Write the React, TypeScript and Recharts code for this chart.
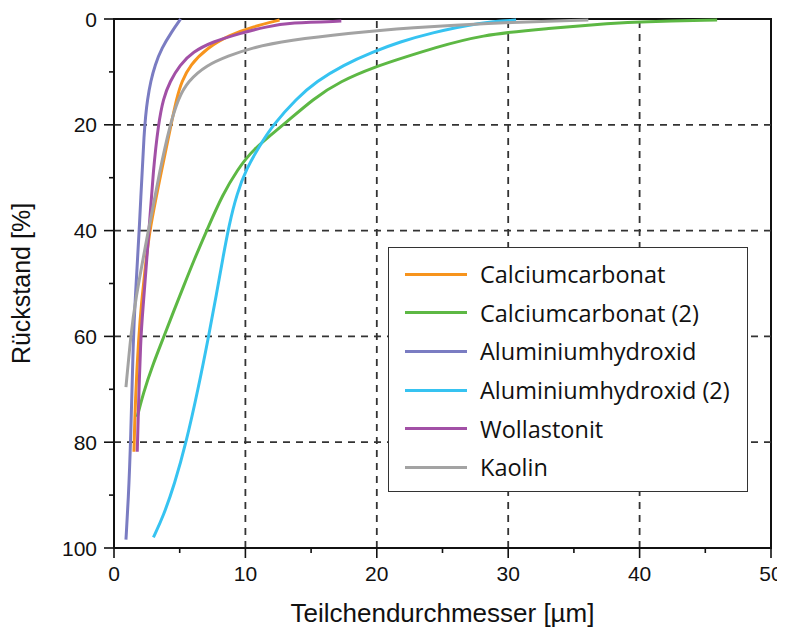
import React from 'react';
import { LineChart, Line, XAxis, YAxis, Legend, ReferenceLine, ReferenceArea } from 'recharts';

// diameter [µm] vs residue [%]
const calciumcarbonat = [
  { x: 1.52, y: 81.8 }, { x: 1.62, y: 72 }, { x: 1.88, y: 60 }, { x: 2.1, y: 53.5 }, { x: 2.36, y: 47.4 },
  { x: 2.69, y: 40 }, { x: 3.63, y: 28.5 }, { x: 4.34, y: 20 }, { x: 4.77, y: 15 }, { x: 5.15, y: 11.8 },
  { x: 5.8, y: 8.7 }, { x: 7.05, y: 5.5 }, { x: 8.83, y: 3.0 }, { x: 10.6, y: 1.45 }, { x: 12.6, y: 0.2 },
];
const calciumcarbonat2 = [
  { x: 1.77, y: 75.2 }, { x: 2.23, y: 70.7 }, { x: 2.9, y: 65.7 }, { x: 3.8, y: 60 }, { x: 4.5, y: 55.5 },
  { x: 5.3, y: 50.5 }, { x: 6.1, y: 45.5 }, { x: 7.05, y: 40 }, { x: 8.3, y: 33 }, { x: 9.4, y: 28.5 },
  { x: 10.5, y: 24.8 }, { x: 12.9, y: 20 }, { x: 15.2, y: 15 }, { x: 17.2, y: 11.8 }, { x: 19.9, y: 9.0 },
  { x: 22.3, y: 7.1 }, { x: 24.2, y: 5.6 }, { x: 27.9, y: 3.0 }, { x: 32.9, y: 1.8 }, { x: 38, y: 0.8 },
  { x: 40, y: 0.5 }, { x: 45.9, y: 0.2 },
];
const aluminiumhydroxid = [
  { x: 0.91, y: 98.4 }, { x: 1.09, y: 90.9 }, { x: 1.27, y: 80 }, { x: 1.47, y: 60 }, { x: 1.6, y: 53.5 },
  { x: 1.93, y: 40 }, { x: 2.3, y: 20 }, { x: 2.56, y: 15 }, { x: 2.79, y: 11.8 }, { x: 3.12, y: 8.7 },
  { x: 3.63, y: 5.5 }, { x: 4.39, y: 2.4 }, { x: 5.07, y: 0 },
];
const aluminiumhydroxid2 = [
  { x: 3.0, y: 98 }, { x: 3.75, y: 94 }, { x: 4.6, y: 88 }, { x: 5.5, y: 80 }, { x: 6.4, y: 70 },
  { x: 7.2, y: 60 }, { x: 7.8, y: 52 }, { x: 8.3, y: 45 }, { x: 8.75, y: 39 }, { x: 9.35, y: 33 },
  { x: 10.1, y: 28.2 }, { x: 11.0, y: 24.3 }, { x: 12.1, y: 20 }, { x: 13.9, y: 15 }, { x: 15.4, y: 11.8 },
  { x: 17.45, y: 8.7 }, { x: 19.7, y: 6.2 }, { x: 21.8, y: 4.3 }, { x: 24, y: 2.7 }, { x: 27.9, y: 0.6 },
  { x: 30.6, y: 0.2 },
];
const wollastonit = [
  { x: 1.77, y: 81.8 }, { x: 1.83, y: 76 }, { x: 2.03, y: 60 }, { x: 2.2, y: 55 }, { x: 2.66, y: 40 },
  { x: 2.99, y: 28.5 }, { x: 3.37, y: 20 }, { x: 3.75, y: 15 }, { x: 4.26, y: 11.8 }, { x: 5.0, y: 8.7 },
  { x: 6.0, y: 6.2 }, { x: 7.5, y: 4.3 }, { x: 9.6, y: 2.7 }, { x: 11.6, y: 1.45 }, { x: 13.4, y: 0.7 },
  { x: 17.3, y: 0.4 },
];
const kaolin = [
  { x: 0.91, y: 69.6 }, { x: 1.27, y: 60 }, { x: 1.6, y: 53.5 }, { x: 2.61, y: 40 }, { x: 3.5, y: 28.5 },
  { x: 4.26, y: 20 }, { x: 4.9, y: 15 }, { x: 5.6, y: 11.8 }, { x: 7.05, y: 8.7 }, { x: 8.7, y: 7.0 },
  { x: 10.35, y: 5.5 }, { x: 13.4, y: 4.0 }, { x: 17.7, y: 2.7 }, { x: 22.8, y: 1.6 }, { x: 28, y: 0.8 },
  { x: 36.1, y: 0.2 },
];

const xTicks = [0, 5, 10, 15, 20, 25, 30, 35, 40, 45, 50];
const yTicks = [0, 10, 20, 30, 40, 50, 60, 70, 80, 90, 100];
const xGrid = [10, 20, 30, 40];
const yGrid = [20, 40, 60, 80];

const series = [
  { name: 'Calciumcarbonat', data: calciumcarbonat, color: '#f7941d' },
  { name: 'Calciumcarbonat (2)', data: calciumcarbonat2, color: '#5db844' },
  { name: 'Aluminiumhydroxid', data: aluminiumhydroxid, color: '#7a7cc2' },
  { name: 'Aluminiumhydroxid (2)', data: aluminiumhydroxid2, color: '#36c3f1' },
  { name: 'Wollastonit', data: wollastonit, color: '#a250a6' },
  { name: 'Kaolin', data: kaolin, color: '#a3a3a3' },
];

const font = 'Liberation Sans, Arial, sans-serif';

const XTick = (props: any) => {
  const { x, y, payload } = props;
  const major = payload.value % 10 === 0;
  return (
    <g>
      <line x1={x} y1={y} x2={x} y2={y + (major ? 10 : 5)} stroke="#111" strokeWidth={1.6} />
      {major && (
        <text x={x} y={y + 33} textAnchor="middle" fontSize={21} fill="#111" fontFamily={font}>
          {payload.value}
        </text>
      )}
    </g>
  );
};

const YTick = (props: any) => {
  const { x, y, payload } = props;
  const major = payload.value % 20 === 0;
  return (
    <g>
      <line x1={x} y1={y} x2={x - (major ? 10 : 5)} y2={y} stroke="#111" strokeWidth={1.6} />
      {major && (
        <text x={x - 17} y={y} dy="0.36em" textAnchor="end" fontSize={21} fill="#111" fontFamily={font}>
          {payload.value}
        </text>
      )}
    </g>
  );
};

const LegendBox = () => (
  <div
    style={{
      width: 358,
      height: 236,
      border: '1.8px solid #333',
      background: '#fff',
      boxSizing: 'content-box',
      paddingTop: 7,
    }}
  >
    {series.map((s) => (
      <div key={s.name} style={{ display: 'flex', alignItems: 'center', height: 38.6 }}>
        <div style={{ width: 62, height: 3, background: s.color, marginLeft: 16, marginRight: 13 }} />
        <span style={{ fontFamily: 'Open Sans, sans-serif', fontSize: 23.5, color: '#111' }}>{s.name}</span>
      </div>
    ))}
  </div>
);

export default function App() {
  return (
    <LineChart
      width={777}
      height={625}
      margin={{ top: 11, right: 14, bottom: 25, left: 46 }}
      style={{ fontFamily: font }}
    >
      <XAxis
        type="number"
        dataKey="x"
        domain={[0, 50]}
        ticks={xTicks}
        interval={0}
        tickSize={0}
        tickMargin={0}
        tickLine={false}
        tick={<XTick />}
        axisLine={{ stroke: '#111', strokeWidth: 2 }}
        height={60}
        label={{
          value: 'Teilchendurchmesser [µm]',
          position: 'insideBottom',
          offset: -14,
          fontSize: 26,
          fill: '#111',
          fontFamily: font,
        }}
      />
      <YAxis
        type="number"
        dataKey="y"
        domain={[0, 100]}
        reversed
        ticks={yTicks}
        interval={0}
        tickSize={0}
        tickMargin={0}
        tickLine={false}
        tick={<YTick />}
        axisLine={{ stroke: '#111', strokeWidth: 2 }}
        width={60}
        label={{
          value: 'Rückstand [%]',
          angle: -90,
          position: 'insideLeft',
          offset: -33,
          fontSize: 25,
          fill: '#111',
          fontFamily: font,
          style: { textAnchor: 'middle' },
        }}
      />
      {xGrid.map((v) => (
        <ReferenceLine key={'x' + v} x={v} stroke="#333" strokeWidth={1.8} strokeDasharray="7 6" />
      ))}
      {yGrid.map((v) => (
        <ReferenceLine key={'y' + v} y={v} stroke="#333" strokeWidth={1.8} strokeDasharray="7 6" />
      ))}
      <ReferenceArea x1={0} x2={50} y1={0} y2={100} fill="none" stroke="#111" strokeWidth={2} />
      {series.map((s) => (
        <Line
          key={s.name}
          data={s.data}
          dataKey="y"
          name={s.name}
          type="basis"
          stroke={s.color}
          strokeWidth={3}
          dot={false}
          isAnimationActive={false}
        />
      ))}
      <Legend
        layout="horizontal"
        verticalAlign="middle"
        align="center"
        content={() => <LegendBox />}
        wrapperStyle={{ position: 'absolute', left: 380, top: 239, width: 'auto' }}
      />
    </LineChart>
  );
}
